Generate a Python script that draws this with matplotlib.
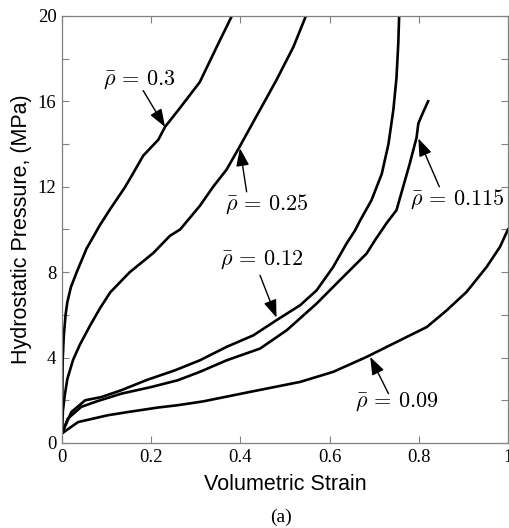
import numpy as np
import matplotlib
matplotlib.use('Agg')
import matplotlib.pyplot as plt

plt.rcParams['mathtext.fontset'] = 'cm'

# strain / pressure curves
x_030 = [0, 0.0015, 0.004, 0.008, 0.012, 0.02, 0.033, 0.055, 0.085, 0.108, 0.141,
         0.156, 0.182, 0.216, 0.231, 0.265, 0.309, 0.347, 0.381]
y_030 = [0.5, 3.9, 5.0, 6.0, 6.6, 7.3, 8.0, 9.1, 10.2, 10.95, 11.97,
         12.5, 13.45, 14.2, 14.8, 15.7, 16.9, 18.55, 20]

x_025 = [0, 0.002, 0.006, 0.012, 0.025, 0.040, 0.063, 0.085, 0.108, 0.152, 0.205,
         0.242, 0.265, 0.309, 0.339, 0.369, 0.399, 0.444, 0.481, 0.519, 0.547]
y_025 = [0.5, 1.5, 2.2, 3.0, 3.9, 4.6, 5.5, 6.3, 7.05, 8.0, 8.9,
         9.7, 10.0, 11.1, 12.0, 12.8, 13.9, 15.6, 17.0, 18.55, 20]

x_012 = [0, 0.021, 0.052, 0.088, 0.133, 0.190, 0.253, 0.309, 0.369, 0.429, 0.481,
         0.534, 0.571, 0.608, 0.638, 0.657, 0.668, 0.694, 0.717, 0.732, 0.743,
         0.750, 0.754, 0.756]
y_012 = [0.45, 1.45, 2.0, 2.15, 2.47, 2.95, 3.4, 3.87, 4.5, 5.04, 5.75,
         6.45, 7.15, 8.24, 9.34, 9.95, 10.4, 11.37, 12.6, 14.0, 15.6,
         17.1, 18.7, 20]

x_0115 = [0, 0.013, 0.043, 0.078, 0.133, 0.200, 0.260, 0.309, 0.369, 0.444, 0.504,
          0.571, 0.623, 0.683, 0.702, 0.717, 0.728, 0.750, 0.765, 0.780, 0.795,
          0.799, 0.810, 0.821]
y_0115 = [0.45, 1.14, 1.69, 1.95, 2.31, 2.62, 2.94, 3.33, 3.87, 4.42, 5.28,
          6.53, 7.62, 8.87, 9.5, 9.96, 10.3, 10.9, 12.0, 13.1, 14.3,
          14.96, 15.5, 16.0]

x_009 = [0, 0.036, 0.103, 0.148, 0.215, 0.26, 0.317, 0.421, 0.534, 0.608, 0.683,
         0.758, 0.818, 0.862, 0.907, 0.952, 0.982, 1.0]
y_009 = [0.45, 0.98, 1.3, 1.45, 1.66, 1.77, 1.95, 2.39, 2.86, 3.33, 4.03,
         4.81, 5.43, 6.2, 7.07, 8.24, 9.18, 10.0]

labels = [r'$\bar{\rho}\,=\,0.3$', r'$\bar{\rho}\,=\,0.25$', r'$\bar{\rho}\,=\,0.12$',
          r'$\bar{\rho}\,=\,0.115$', r'$\bar{\rho}\,=\,0.09$']
label_pos = [(0.092, 17.0), (0.365, 11.2), (0.354, 8.6), (0.780, 11.4), (0.657, 1.95)]
arrow_tail = [(0.182, 16.5), (0.414, 11.76), (0.444, 7.85), (0.846, 12.0), (0.732, 2.31)]
arrow_tip = [(0.231, 14.8), (0.399, 13.8), (0.481, 5.87), (0.799, 14.26), (0.691, 4.03)]

fig = plt.figure(figsize=(5.09, 5.28), dpi=100)
ax = fig.add_axes([0.1218, 0.161, 0.8762, 0.809])

for xs, ys in [(x_030, y_030), (x_025, y_025), (x_012, y_012), (x_0115, y_0115), (x_009, y_009)]:
    ax.plot(xs, ys, color='k', lw=1.9, solid_joinstyle='round', clip_on=True)

for lab, pos, tail, tip in zip(labels, label_pos, arrow_tail, arrow_tip):
    ax.text(pos[0], pos[1], lab, fontsize=16, ha='left', va='center')
    ax.annotate('', xy=tip, xytext=tail,
                arrowprops=dict(arrowstyle='-|>,head_length=0.6,head_width=0.22',
                                color='k', lw=1.0, mutation_scale=18, shrinkA=0, shrinkB=0))

ax.set_xlim(0, 1)
ax.set_ylim(0, 20)
ax.set_xticks([0, 0.2, 0.4, 0.6, 0.8, 1])
ax.set_xticklabels(['0', '0.2', '0.4', '0.6', '0.8', '1'])
ax.set_yticks(np.arange(0, 21, 2))
ax.set_yticklabels([str(v) if v % 4 == 0 else '' for v in range(0, 21, 2)])
ax.tick_params(direction='in', length=5, width=0.8, color='#808080',
               top=True, right=True, labelsize=13.5, pad=4)
for lbl in ax.get_xticklabels() + ax.get_yticklabels():
    lbl.set_family('Liberation Serif')
for sp in ax.spines.values():
    sp.set_color('#808080')
    sp.set_linewidth(0.9)

ax.set_xlabel('Volumetric Strain', fontsize=15.5, family='Liberation Sans', labelpad=6)
ax.set_ylabel('Hydrostatic Pressure, (MPa)', fontsize=15.5, family='Liberation Sans', labelpad=4)

fig.text(0.553, 0.021, '(a)', fontsize=14, family='Liberation Serif', ha='center', va='center')

fig.savefig('out.png', dpi=100)
